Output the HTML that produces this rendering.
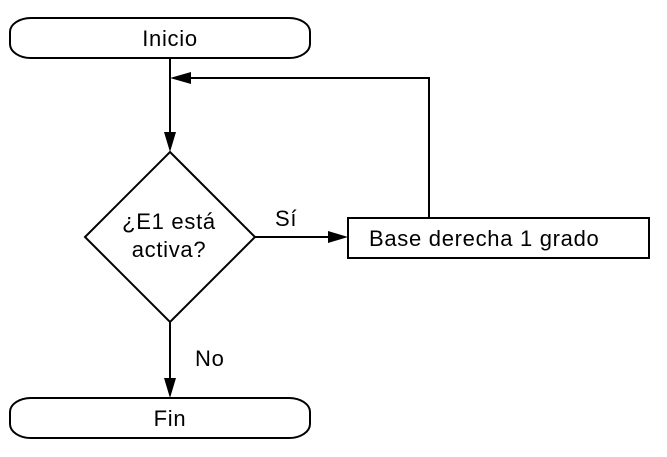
<!DOCTYPE html>
<html>
<head>
<meta charset="utf-8">
<style>
  html, body { margin: 0; padding: 0; background: #fff; }
  svg { display: block; }
  text { font-family: "Liberation Sans", Arial, sans-serif; font-size: 22px; fill: #000; letter-spacing: 0.7px; }
</style>
</head>
<body>
<svg width="667" height="457" viewBox="0 0 667 457" xmlns="http://www.w3.org/2000/svg">
  <rect x="0" y="0" width="667" height="457" fill="#fff"/>
  <g fill="none" stroke="#000" stroke-width="2">
    <!-- Inicio -->
    <rect x="10" y="18" width="300" height="40" rx="21" ry="14"/>
    <!-- Fin -->
    <rect x="10" y="398" width="300" height="40" rx="21" ry="14"/>
    <!-- Diamond -->
    <polygon points="170,152 255,237 170,322 85,237"/>
    <!-- Process box -->
    <rect x="348" y="218" width="301" height="40"/>
    <!-- Connectors -->
    <line x1="170" y1="58" x2="170" y2="134"/>
    <line x1="255" y1="237" x2="332" y2="237"/>
    <line x1="170" y1="322" x2="170" y2="382"/>
    <polyline points="429,218 429,78 188,78"/>
  </g>
  <g fill="#000" stroke="none">
    <polygon points="164,132 176,132 170,152"/>
    <polygon points="328,231 328,243 348,237"/>
    <polygon points="164,378 176,378 170,398"/>
    <polygon points="191,72 191,84 170,78"/>
  </g>
  <text x="170" y="46" text-anchor="middle">Inicio</text>
  <text x="169" y="229" text-anchor="middle">¿E1 está</text>
  <text x="169" y="257" text-anchor="middle">activa?</text>
  <text x="275" y="226">Sí</text>
  <text x="369" y="246">Base derecha 1 grado</text>
  <text x="195" y="366">No</text>
  <text x="170" y="426" text-anchor="middle">Fin</text>
</svg>
</body>
</html>
